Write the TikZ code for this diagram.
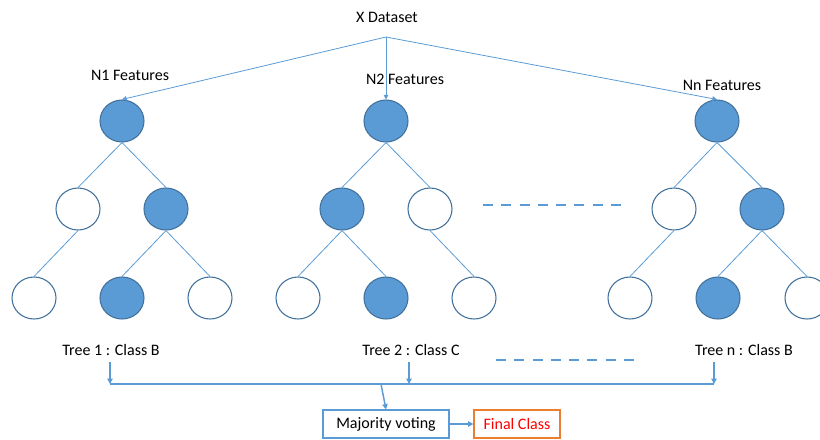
\documentclass[tikz,border=0pt]{standalone}
\usepackage{fontspec}
\setmainfont{Carlito}
\usetikzlibrary{arrows.meta,shapes.geometric}
\definecolor{lineblue}{HTML}{5B9BD5}
\definecolor{rimblue}{HTML}{41719C}
\definecolor{boxorange}{HTML}{ED7D31}
\tikzset{
  full/.style={shape=ellipse, draw=rimblue, fill=lineblue, line width=0.8pt,
    minimum width=33pt, minimum height=31.5pt, inner sep=0pt},
  empty/.style={shape=ellipse, draw=rimblue, fill=white, line width=0.8pt,
    minimum width=33pt, minimum height=31.5pt, inner sep=0pt},
  branch/.style={draw=lineblue, line width=0.6pt},
  feed/.style={draw=lineblue, line width=0.6pt, -{Triangle[width=3.5pt,length=3.5pt]}},
  vote/.style={draw=lineblue, line width=1.1pt, -{Triangle[width=4pt,length=4pt]}},
  gap/.style={draw=lineblue, line width=2.2pt, dash pattern=on 7.5pt off 6.2pt},
  lbl/.style={inner sep=0pt, font=\fontsize{12pt}{14pt}\selectfont}
}
\begin{document}
\begin{tikzpicture}[x=0.75pt, y=-0.75pt]
\useasboundingbox (0,0) rectangle (820,439);

% source and feature labels
\node[lbl] (xd) at (387,17) {X Dataset};
\coordinate (apex) at (386,37);
\node[lbl] (f1) at (130,75) {N1 Features};
\node[lbl] (f2) at (405,79) {N2 Features};
\node[lbl] (fn) at (722,85) {Nn Features};

% tree 1
\node[full]  (a0) at (122,121) {};
\node[empty] (a1) at (78,209) {};
\node[full]  (a2) at (166,209) {};
\node[empty] (a3) at (34,298) {};
\node[full]  (a4) at (122,298) {};
\node[empty] (a5) at (210,298) {};

% tree 2
\node[full]  (b0) at (386,121) {};
\node[full]  (b1) at (342,209) {};
\node[empty] (b2) at (430,209) {};
\node[empty] (b3) at (298,298) {};
\node[full]  (b4) at (386,298) {};
\node[empty] (b5) at (474,298) {};

% tree n
\node[full]  (c0) at (717,121) {};
\node[empty] (c1) at (674,209) {};
\node[full]  (c2) at (762,209) {};
\node[empty] (c3) at (630,298) {};
\node[full]  (c4) at (718,298) {};
\node[empty] (c5) at (807,298) {};

% branches
\draw[branch] (a0.south) -- (a1.north);
\draw[branch] (a0.south) -- (a2.north);
\draw[branch] (a1.south) -- (a3.north);
\draw[branch] (a2.south) -- (a4.north);
\draw[branch] (a2.south) -- (a5.north);

\draw[branch] (b0.south) -- (b1.north);
\draw[branch] (b0.south) -- (b2.north);
\draw[branch] (b1.south) -- (b3.north);
\draw[branch] (b1.south) -- (b4.north);
\draw[branch] (b2.south) -- (b5.north);

\draw[branch] (c0.south) -- (c1.north);
\draw[branch] (c0.south) -- (c2.north);
\draw[branch] (c1.south) -- (c3.north);
\draw[branch] (c2.south) -- (c4.north);
\draw[branch] (c2.south) -- (c5.north);

% dataset split into trees
\draw[feed] (apex) -- (a0.north);
\draw[feed] (apex) -- (b0.north);
\draw[feed] (apex) -- (c0.north);

% ellipsis dashes between trees
\coordinate (d1) at (483,205);
\coordinate (d2) at (623,205);
\draw[gap] (d1) -- (d2);
\coordinate (e1) at (496,360);
\coordinate (e2) at (635,360);
\draw[gap] (e1) -- (e2);

% tree outcomes
\node[lbl] (t1) at (111,350) {Tree 1 : Class B};
\node[lbl] (t2) at (411,350) {Tree 2 : Class C};
\node[lbl] (tn) at (744,350) {Tree n : Class B};

\coordinate (s1) at (110,362);
\coordinate (s2) at (409,362);
\coordinate (sn) at (714,362);
\coordinate (k1) at (110,384);
\coordinate (k2) at (409,384);
\coordinate (kn) at (714,384);
\coordinate (km) at (381,384);

\draw[vote] (s1) -- (k1);
\draw[vote] (s2) -- (k2);
\draw[vote] (sn) -- (kn);
\draw[draw=lineblue, line width=1.5pt] (k1) -- (kn);

% voting stage
\node[lbl, draw=lineblue, line width=0.8pt, minimum width=94.5pt, minimum height=21pt]
  (mv) at (386,424) {Majority voting};
\node[lbl, draw=boxorange, line width=0.8pt, text=red, minimum width=64.5pt, minimum height=21pt]
  (fc) at (517,424) {Final Class};
\draw[vote] (km) -- (mv.north);
\draw[vote] (mv.east) -- (fc.west);
\end{tikzpicture}
\end{document}
